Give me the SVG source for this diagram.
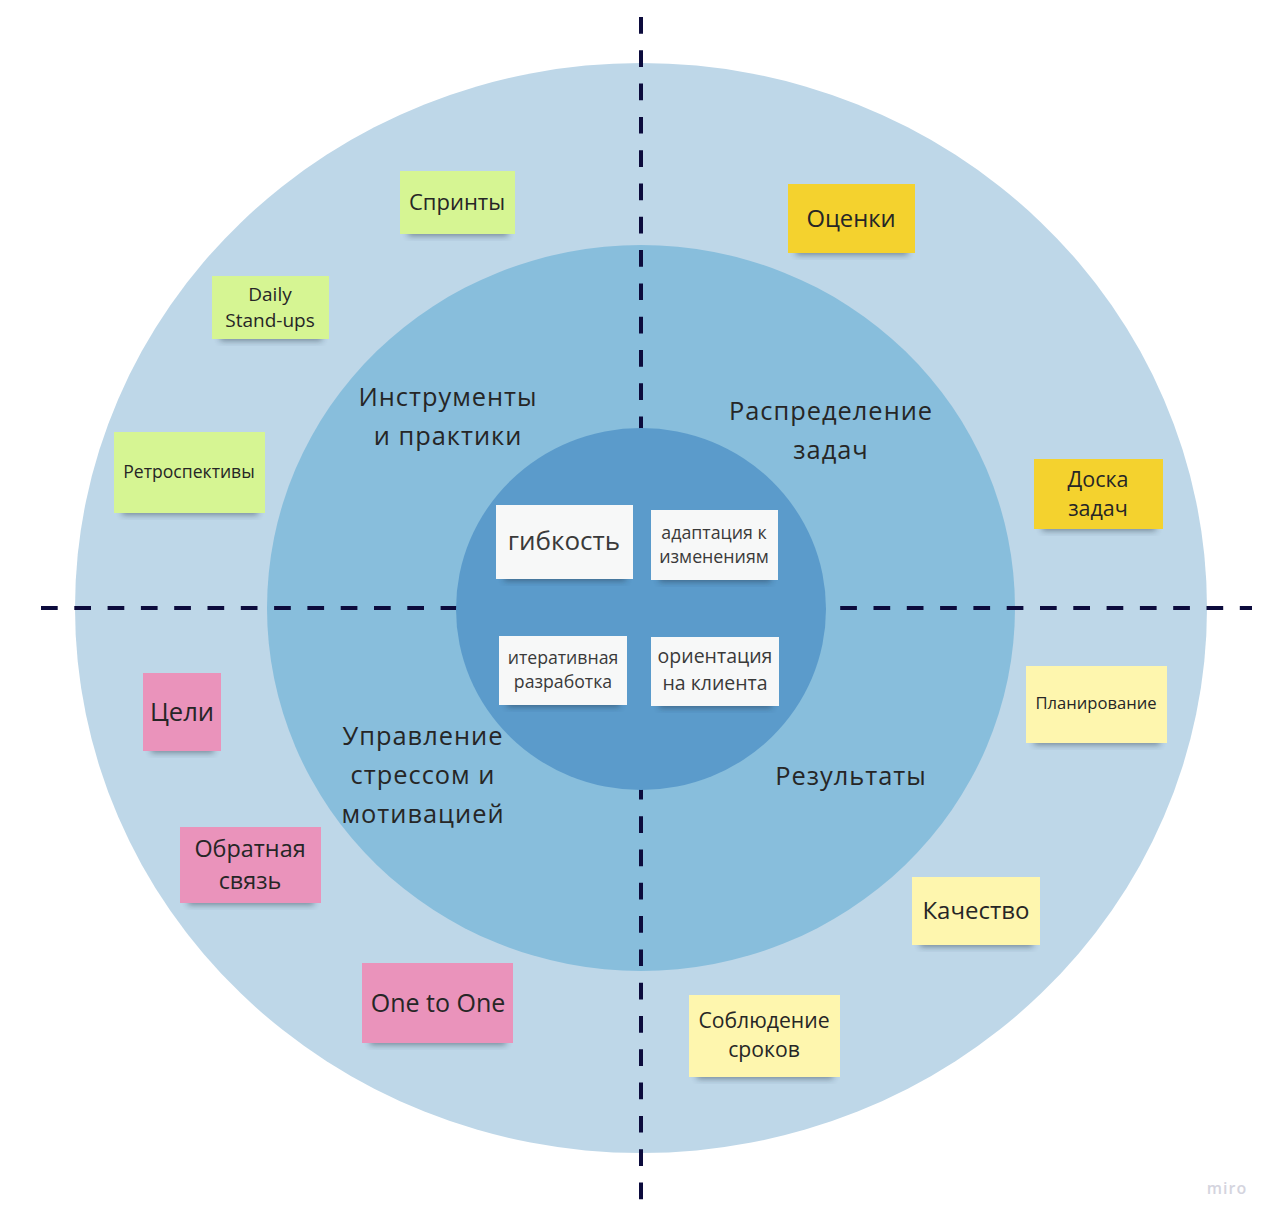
<svg xmlns="http://www.w3.org/2000/svg" width="1276" height="1223" viewBox="0 0 1276 1223">
<style>
.lbl{font-family:"Open Sans","Noto Sans","DejaVu Sans",sans-serif;fill:#262626;font-size:25.4px;letter-spacing:1px;text-anchor:middle}
.st{font-family:"Open Sans","Noto Sans","DejaVu Sans",sans-serif;fill:#262626;text-anchor:middle}
.cd{font-family:"Open Sans","Noto Sans","DejaVu Sans",sans-serif;fill:#3a3a3a;text-anchor:middle}
.sh{fill:#1e2a3a;opacity:0.45;filter:url(#blur)}
.dash{stroke:#0c0b3c;stroke-width:4;stroke-dasharray:16.7 16.6;fill:none}
.green{fill:#d6f593}
.yellow{fill:#f4d22e}
.lyellow{fill:#fef6ae}
.pink{fill:#ea93bb}
.white{fill:#f7f8f8}
</style>
<defs>
<filter id="blur" x="-20%" y="-50%" width="140%" height="200%"><feGaussianBlur stdDeviation="3"/></filter>
</defs>
<rect width="1276" height="1223" fill="#ffffff"/>
<g id="rings">
<ellipse id="outer" cx="641" cy="608" rx="566" ry="545" fill="#bed7e8"/>
<ellipse id="middle" cx="641" cy="608" rx="374" ry="363" fill="#88bedc"/>
</g>
<g id="connectors">
<line class="dash" x1="641" y1="17" x2="641" y2="1203"/>
<line class="dash" x1="41" y1="608" x2="1252" y2="608"/>
</g>
<ellipse id="inner" cx="641" cy="609" rx="185" ry="181" fill="#5b9bcb"/>
<g id="labels">
<text class="lbl" x="448" y="406">Инструменты</text>
<text class="lbl" x="448" y="445">и практики</text>
<text class="lbl" x="831" y="420">Распределение</text>
<text class="lbl" x="831" y="459">задач</text>
<text class="lbl" x="423" y="745">Управление</text>
<text class="lbl" x="423" y="784">стрессом и</text>
<text class="lbl" x="423" y="823">мотивацией</text>
<text class="lbl" x="851" y="785">Результаты</text>
</g>
<g id="n-sprints"><rect class="sh" x="408" y="226" width="100" height="10"/><rect class="green" x="400" y="171" width="115" height="63"/><text class="st" x="457" y="210" font-size="22">Спринты</text></g>
<g id="n-daily"><rect class="sh" x="220" y="331" width="102" height="10"/><rect class="green" x="212" y="276" width="117" height="63"/><text class="st" x="270" y="301" font-size="19">Daily</text><text class="st" x="270" y="327" font-size="19">Stand-ups</text></g>
<g id="n-retro"><rect class="sh" x="122" y="505" width="136" height="10"/><rect class="green" x="114" y="432" width="151" height="81"/><text class="st" x="189" y="478" font-size="17.6">Ретроспективы</text></g>
<g id="n-ocenki"><rect class="sh" x="796" y="245" width="112" height="10"/><rect class="yellow" x="788" y="184" width="127" height="69"/><text class="st" x="851" y="227" font-size="23.8">Оценки</text></g>
<g id="n-doska"><rect class="sh" x="1042" y="521" width="114" height="10"/><rect class="yellow" x="1034" y="459" width="129" height="70"/><text class="st" x="1098" y="487" font-size="21.5">Доска</text><text class="st" x="1098" y="516" font-size="21.5">задач</text></g>
<g id="n-plan"><rect class="sh" x="1034" y="735" width="126" height="10"/><rect class="lyellow" x="1026" y="666" width="141" height="77"/><text class="st" x="1096" y="709" font-size="16.6">Планирование</text></g>
<g id="n-kach"><rect class="sh" x="920" y="937" width="113" height="10"/><rect class="lyellow" x="912" y="877" width="128" height="68"/><text class="st" x="976" y="919" font-size="24">Качество</text></g>
<g id="n-srok"><rect class="sh" x="697" y="1069" width="136" height="10"/><rect class="lyellow" x="689" y="995" width="151" height="82"/><text class="st" x="764" y="1028" font-size="21.2">Соблюдение</text><text class="st" x="764" y="1057" font-size="21.2">сроков</text></g>
<g id="n-celi"><rect class="sh" x="151" y="743" width="63" height="10"/><rect class="pink" x="143" y="673" width="78" height="78"/><text class="st" x="182" y="721" font-size="25.6">Цели</text></g>
<g id="n-obr"><rect class="sh" x="188" y="895" width="126" height="10"/><rect class="pink" x="180" y="827" width="141" height="76"/><text class="st" x="250" y="857" font-size="23.4">Обратная</text><text class="st" x="250" y="889" font-size="23.4">связь</text></g>
<g id="n-one"><rect class="sh" x="370" y="1035" width="136" height="10"/><rect class="pink" x="362" y="963" width="151" height="80"/><text class="st" x="438" y="1012" font-size="25">One to One</text></g>
<g id="c-gib"><rect class="sh" x="504" y="571" width="122" height="10"/><rect class="white" x="496" y="505" width="137" height="74"/><text class="cd" x="564" y="550" font-size="26" fill="#262626">гибкость</text></g>
<g id="c-adapt"><rect class="sh" x="659" y="572" width="112" height="10"/><rect class="white" x="651" y="510" width="127" height="70"/><text class="cd" x="714" y="539" font-size="17.8">адаптация к</text><text class="cd" x="714" y="563" font-size="17.8">изменениям</text></g>
<g id="c-iter"><rect class="sh" x="507" y="697" width="113" height="10"/><rect class="white" x="499" y="636" width="128" height="69"/><text class="cd" x="563" y="664" font-size="17.7">итеративная</text><text class="cd" x="563" y="688" font-size="17.7">разработка</text></g>
<g id="c-orient"><rect class="sh" x="659" y="698" width="113" height="10"/><rect class="white" x="651" y="637" width="128" height="69"/><text class="cd" x="715" y="663" font-size="19.5">ориентация</text><text class="cd" x="715" y="690" font-size="19.5">на клиента</text></g>
<text x="1227" y="1194" font-family="'Open Sans','Noto Sans',sans-serif" font-size="16" font-weight="600" fill="#d4d4de" text-anchor="middle" letter-spacing="1">miro</text>
</svg>
